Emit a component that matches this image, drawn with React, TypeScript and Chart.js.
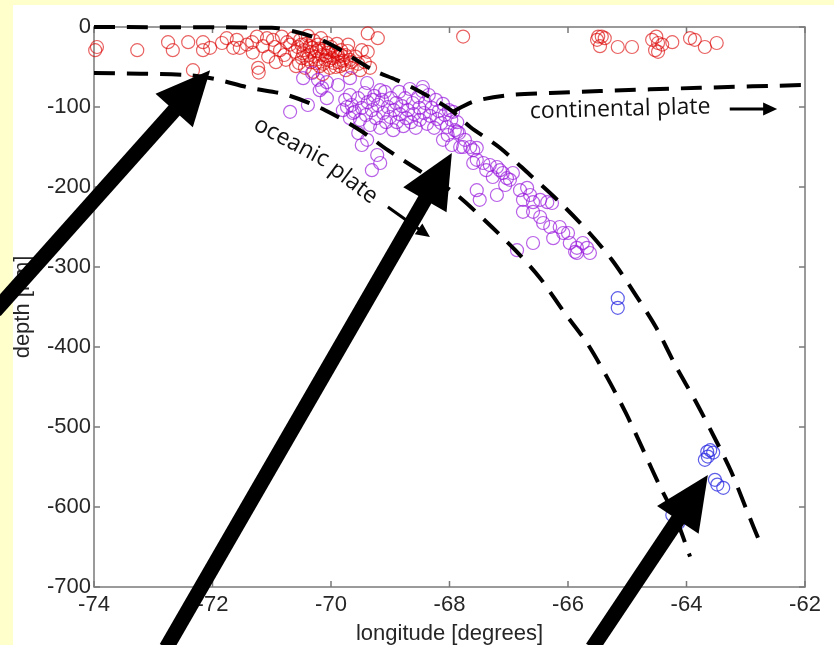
import React, { useEffect, useRef } from "react";
import { Chart, registerables } from "chart.js";

Chart.register(...registerables);

// ---------- axis ticks ----------
const xTicks = [-74, -72, -70, -68, -66, -64, -62];
const yTicks = [-700, -600, -500, -400, -300, -200, -100, 0];
const xTitle = "longitude [degrees]";
const yTitle = "depth [km]";

// ---------- earthquakes [longitude, depth] ----------
const shallowQuakes: [number, number][] = [
  [-73.98, -29], [-73.95, -25], [-73.27, -29], [-72.75, -19], [-72.67, -29], [-72.41, -19],
  [-72.33, -54], [-72.16, -19], [-72.16, -29], [-72.04, -26], [-71.84, -20], [-71.76, -14],
  [-71.65, -26], [-71.59, -16], [-71.54, -26], [-71.42, -22], [-71.33, -19], [-71.32, -32],
  [-71.25, -12], [-71.23, -51], [-71.22, -57], [-71.15, -24], [-71.08, -14], [-71.06, -37],
  [-70.98, -16], [-70.95, -25], [-70.93, -44], [-70.86, -29], [-70.83, -12], [-70.79, -35],
  [-70.76, -41], [-70.74, -19], [-70.69, -22], [-70.64, -14], [-70.61, -31], [-70.59, -49],
  [-70.56, -25], [-70.54, -45], [-70.52, -16], [-70.49, -39], [-70.46, -29], [-70.44, -51],
  [-70.42, -21], [-70.39, -11], [-70.37, -35], [-70.34, -44], [-70.32, -26], [-70.30, -56],
  [-70.29, -17], [-70.27, -37], [-70.24, -30], [-70.22, -22], [-70.19, -49], [-70.17, -14],
  [-70.15, -35], [-70.14, -59], [-70.12, -27], [-70.10, -41], [-70.07, -20], [-70.05, -32],
  [-70.02, -51], [-70.00, -25], [-69.98, -39], [-69.95, -45], [-69.93, -31], [-69.90, -21],
  [-69.88, -37], [-69.85, -49], [-69.83, -29], [-69.80, -42], [-69.76, -35], [-69.75, -54],
  [-69.71, -22], [-69.68, -41], [-69.65, -51], [-69.59, -37], [-69.54, -46], [-69.51, -54],
  [-69.48, -29], [-69.43, -44], [-69.38, -31], [-69.38, -8], [-69.34, -51], [-69.21, -14],
  [-70.47, -33], [-70.40, -40], [-70.33, -31], [-70.26, -45], [-70.20, -27], [-70.13, -46],
  [-70.08, -36], [-70.03, -42], [-69.97, -30], [-69.92, -50], [-69.87, -44], [-69.82, -36],
  [-69.78, -47], [-69.72, -30], [-69.66, -44], [-70.36, -24], [-70.21, -40], [-70.04, -28],
  [-69.89, -33], [-70.50, -22],
  [-67.77, -12],
  [-65.51, -16], [-65.49, -12], [-65.43, -12], [-65.38, -14], [-65.46, -24], [-65.16, -25],
  [-64.92, -25], [-64.58, -16], [-64.51, -12], [-64.48, -20], [-64.53, -29], [-64.48, -31],
  [-64.41, -22], [-64.24, -19], [-63.94, -14], [-63.86, -16], [-63.69, -25], [-63.49, -20],
];

const intermediateQuakes: [number, number][] = [
  [-70.69, -106], [-70.47, -64], [-70.32, -57.5], [-70.22, -66], [-70.15, -76], [-70.07, -69],
  [-70.39, -97.5], [-70.07, -89], [-69.88, -72.5], [-69.68, -64], [-69.73, -100], [-69.63, -107.5],
  [-69.39, -70], [-69.29, -91], [-69.54, -132.5], [-69.39, -141], [-69.22, -160], [-69.17, -170],
  [-70.19, -79], [-69.80, -104], [-69.68, -114], [-69.48, -147.5], [-69.31, -179], [-69.17, -79],
  [-69.76, -91], [-69.68, -85], [-69.65, -97.5], [-69.60, -106], [-69.54, -89], [-69.51, -116],
  [-69.48, -101], [-69.43, -82.5], [-69.41, -110], [-69.38, -94], [-69.34, -122.5], [-69.31, -104],
  [-69.27, -86], [-69.24, -114], [-69.21, -97.5], [-69.17, -126], [-69.14, -91], [-69.12, -107.5],
  [-69.09, -81], [-69.07, -119], [-69.04, -100], [-69.00, -112.5], [-68.99, -89], [-68.95, -129],
  [-68.94, -104], [-68.90, -95], [-68.89, -119], [-68.85, -81], [-68.84, -109], [-68.80, -99],
  [-68.78, -124], [-68.75, -89], [-68.73, -114], [-68.70, -104], [-68.67, -77.5], [-68.65, -119],
  [-68.62, -95], [-68.60, -109], [-68.57, -126], [-68.53, -87.5], [-68.51, -101], [-68.50, -116],
  [-68.46, -80], [-68.43, -107.5], [-68.41, -95], [-68.38, -121], [-68.35, -85], [-68.33, -111],
  [-68.30, -101], [-68.26, -126], [-68.23, -91], [-68.21, -115], [-68.18, -105], [-68.14, -120],
  [-68.11, -96], [-68.08, -110], [-68.04, -125], [-68.01, -104], [-67.97, -116], [-67.94, -106],
  [-67.91, -129], [-67.87, -119], [-67.84, -132.5], [-68.45, -75],
  [-67.87, -131], [-67.77, -150], [-67.60, -154], [-67.54, -166], [-67.82, -150], [-67.65, -150],
  [-67.54, -151], [-67.60, -170], [-67.43, -170], [-67.20, -175], [-67.15, -179], [-67.10, -182.5],
  [-67.27, -187.5], [-67.03, -189], [-66.93, -182.5], [-67.54, -204], [-67.49, -216], [-67.20, -210],
  [-66.81, -204], [-66.69, -201], [-66.64, -210], [-66.76, -216], [-66.59, -219], [-66.47, -216],
  [-66.35, -219], [-66.76, -231], [-66.59, -231], [-66.47, -237.5], [-66.42, -245], [-66.30, -250],
  [-66.14, -250], [-66.08, -257.5], [-66.25, -264], [-66.59, -270], [-66.86, -279], [-65.97, -270],
  [-65.85, -276], [-65.75, -270], [-65.68, -276], [-65.63, -282.5], [-65.85, -282.5], [-66.27, -220],
  [-66.00, -257.5], [-65.88, -281], [-68.11, -141], [-68.03, -135], [-67.96, -147.5], [-67.74, -141],
  [-67.32, -172.5], [-67.06, -197.5], [-66.98, -191], [-67.38, -179],
];

const deepQuakes: [number, number][] = [
  [-65.16, -339], [-65.16, -351],
  [-63.65, -531], [-63.60, -529], [-63.55, -532], [-63.69, -541], [-63.64, -537],
  [-63.52, -566], [-63.48, -572], [-63.38, -576],
  [-64.24, -610], [-64.14, -620],
];

// ---------- plate boundaries [longitude, depth] ----------
const slabTop: [number, number][] = [
  [-74, 0], [-71.0, -1], [-70.6, -6], [-70.2, -15], [-69.9, -26], [-69.6, -40],
  [-69.26, -55], [-68.9, -66], [-68.62, -76], [-68.16, -95], [-67.94, -106], [-67.65, -125],
  [-67.15, -151], [-66.64, -185], [-66.14, -219], [-65.68, -254], [-65.26, -291], [-64.84, -337],
  [-64.51, -376], [-64.18, -424], [-63.86, -466], [-63.55, -510], [-63.25, -555], [-63.0, -601],
  [-62.73, -650],
];

const slabBottom: [number, number][] = [
  [-74, -57.5], [-72.43, -60], [-71.96, -65], [-71.37, -76], [-70.74, -85], [-70.10, -104],
  [-69.51, -129], [-69.04, -154], [-68.50, -180], [-67.91, -208], [-67.37, -244], [-66.89, -279],
  [-66.47, -314], [-66.08, -355], [-65.68, -395], [-65.34, -438], [-65.02, -483], [-64.73, -529],
  [-64.45, -574], [-64.18, -614], [-63.94, -662],
];

const continentalBase: [number, number][] = [
  [-67.94, -106], [-67.82, -101], [-67.57, -92.5], [-66.98, -85], [-66.30, -82.5],
  [-65.46, -80], [-63.77, -76], [-62, -72.5],
];

// ---------- annotations [longitude, depth] ----------
const bigArrowTails: [number, number][] = [[-75.67, -355], [-72.78, -776], [-65.59, -776]];
const bigArrowTips: [number, number][] = [[-72.04, -54], [-67.96, -157.5], [-63.64, -560]];
const smallArrowTails: [number, number][] = [[-63.27, -102.5], [-69.04, -225]];
const smallArrowTips: [number, number][] = [[-62.47, -102.5], [-68.33, -262.5]];
const labelTexts = ["continental plate", "oceanic", "plate"];
const labelAnchors: [number, number][] = [[-66.64, -114], [-70.67, -144], [-69.62, -195]];
const labelAngles = [-1.5, 28, 37];

const AXIS_FONT = "'Liberation Sans', Arial, Helvetica, sans-serif";
const NOTE_FONT = "'Open Sans', 'DejaVu Sans', sans-serif";

const toXY = (arr: [number, number][]) => arr.map(([x, y]) => ({ x, y }));

function drawArrow(ctx: CanvasRenderingContext2D, x0: number, y0: number, x1: number, y1: number,
  shaft: number, headLen: number, headW: number) {
  const dx = x1 - x0, dy = y1 - y0;
  const len = Math.hypot(dx, dy);
  const ux = dx / len, uy = dy / len;
  const px = -uy, py = ux;
  const bx = x1 - ux * headLen, by = y1 - uy * headLen;
  ctx.beginPath();
  ctx.lineCap = "butt";
  ctx.lineWidth = shaft;
  ctx.moveTo(x0, y0);
  ctx.lineTo(bx + ux * 2, by + uy * 2);
  ctx.stroke();
  ctx.beginPath();
  ctx.moveTo(x1, y1);
  ctx.lineTo(bx + px * headW / 2, by + py * headW / 2);
  ctx.lineTo(bx - px * headW / 2, by - py * headW / 2);
  ctx.closePath();
  ctx.fill();
}

const backgroundPlugin = {
  id: "pageBackground",
  beforeDraw(chart: any) {
    const ctx = chart.ctx;
    ctx.save();
    ctx.fillStyle = "#FFFFCC";
    ctx.fillRect(0, 0, chart.width, chart.height);
    ctx.fillStyle = "#FFFFFF";
    ctx.fillRect(13, 5, chart.width - 13, chart.height - 5);
    ctx.restore();
  },
};

const framePlugin = {
  id: "matlabFrame",
  beforeDatasetsDraw(chart: any) {
    const { ctx, chartArea: a, scales } = chart;
    ctx.save();
    ctx.strokeStyle = "#7a7a7a";
    ctx.lineWidth = 1.5;
    ctx.strokeRect(a.left, a.top, a.right - a.left, a.bottom - a.top);
    const t = 6;
    ctx.beginPath();
    xTicks.forEach((v) => {
      const x = scales.x.getPixelForValue(v);
      ctx.moveTo(x, a.bottom); ctx.lineTo(x, a.bottom - t);
      ctx.moveTo(x, a.top); ctx.lineTo(x, a.top + t);
    });
    yTicks.forEach((v) => {
      const y = scales.y.getPixelForValue(v);
      ctx.moveTo(a.left, y); ctx.lineTo(a.left + t, y);
      ctx.moveTo(a.right, y); ctx.lineTo(a.right - t, y);
    });
    ctx.stroke();
    ctx.restore();
  },
};

const annotationPlugin = {
  id: "annotations",
  afterDraw(chart: any) {
    const { ctx, chartArea: a, scales } = chart;
    const X = (v: number) => scales.x.getPixelForValue(v);
    const Y = (v: number) => scales.y.getPixelForValue(v);
    ctx.save();
    // axis titles
    ctx.fillStyle = "#262626";
    ctx.font = `22px ${AXIS_FONT}`;
    ctx.textAlign = "center";
    ctx.textBaseline = "alphabetic";
    ctx.fillText(xTitle, (a.left + a.right) / 2, 640);
    ctx.save();
    ctx.translate(29, (a.top + a.bottom) / 2);
    ctx.rotate(-Math.PI / 2);
    ctx.fillText(yTitle, 0, 0);
    ctx.restore();

    // plate labels
    ctx.fillStyle = "#111111";
    ctx.font = `23px ${NOTE_FONT}`;
    labelTexts.forEach((txt, i) => {
      ctx.save();
      ctx.translate(X(labelAnchors[i][0]), Y(labelAnchors[i][1]));
      ctx.rotate((labelAngles[i] * Math.PI) / 180);
      if (i === 0) {
        ctx.textAlign = "left";
        ctx.textBaseline = "alphabetic";
      } else {
        ctx.textAlign = "center";
        ctx.textBaseline = "middle";
      }
      ctx.fillText(txt, 0, 0);
      ctx.restore();
    });

    // arrows
    ctx.fillStyle = "#000000";
    ctx.strokeStyle = "#000000";
    smallArrowTails.forEach((t, i) => {
      drawArrow(ctx, X(t[0]), Y(t[1]), X(smallArrowTips[i][0]), Y(smallArrowTips[i][1]), 3, 14, 13);
    });
    bigArrowTails.forEach((t, i) => {
      drawArrow(ctx, X(t[0]), Y(t[1]), X(bigArrowTips[i][0]), Y(bigArrowTips[i][1]), 15, 54, 50);
    });
    ctx.restore();
  },
};

export default function App() {
  const canvasRef = useRef<HTMLCanvasElement | null>(null);

  useEffect(() => {
    if (!canvasRef.current) return;
    const lineStyle = {
      showLine: true,
      pointRadius: 0,
      borderColor: "#000000",
      borderWidth: 4,
      borderDash: [21, 12],
      tension: 0.3,
      fill: false,
      clip: 8,
    };
    const pointStyle = {
      showLine: false,
      pointRadius: 6.5,
      pointBorderWidth: 1.2,
      pointBackgroundColor: "rgba(0,0,0,0)",
      backgroundColor: "rgba(0,0,0,0)",
      clip: false as any,
    };
    const chart = new Chart(canvasRef.current, {
      type: "scatter",
      data: {
        datasets: [
          { label: "slab top", data: toXY(slabTop), ...lineStyle },
          { label: "slab bottom", data: toXY(slabBottom), ...lineStyle },
          { label: "continental plate", data: toXY(continentalBase), ...lineStyle },
          { label: "deep", data: toXY(deepQuakes), ...pointStyle, borderColor: "rgba(40,40,225,0.75)", pointBorderColor: "rgba(40,40,225,0.75)" },
          { label: "intermediate", data: toXY(intermediateQuakes), ...pointStyle, borderColor: "rgba(150,20,220,0.68)", pointBorderColor: "rgba(150,20,220,0.68)" },
          { label: "shallow", data: toXY(shallowQuakes), ...pointStyle, borderColor: "rgba(220,0,0,0.62)", pointBorderColor: "rgba(220,0,0,0.62)" },
        ] as any,
      },
      options: {
        responsive: false,
        animation: false,
        devicePixelRatio: 1,
        layout: { padding: { left: 13, top: 27, right: 29, bottom: 0 } },
        plugins: { legend: { display: false }, tooltip: { enabled: false } },
        scales: {
          x: {
            type: "linear",
            min: -74,
            max: -62,
            afterBuildTicks: (s: any) => { s.ticks = xTicks.map((v) => ({ value: v })); },
            afterFit: (s: any) => { s.height = 58; },
            ticks: { font: { family: AXIS_FONT, size: 22 }, color: "#262626", padding: 5, maxRotation: 0, autoSkip: false },
            grid: { display: false, drawTicks: false },
            border: { display: false },
          },
          y: {
            type: "linear",
            min: -700,
            max: 0,
            afterBuildTicks: (s: any) => { s.ticks = yTicks.map((v) => ({ value: v })); },
            afterFit: (s: any) => { s.width = 81; },
            ticks: { font: { family: AXIS_FONT, size: 22 }, color: "#262626", padding: 3, autoSkip: false },
            grid: { display: false, drawTicks: false },
            border: { display: false },
          },
        },
      } as any,
      plugins: [backgroundPlugin, framePlugin, annotationPlugin],
    });
    return () => chart.destroy();
  }, []);

  return (
    <div style={{ position: "fixed", left: 0, top: 0, width: 834, height: 645 }}>
      <canvas ref={canvasRef} width={834} height={645} style={{ display: "block" }} />
    </div>
  );
}
